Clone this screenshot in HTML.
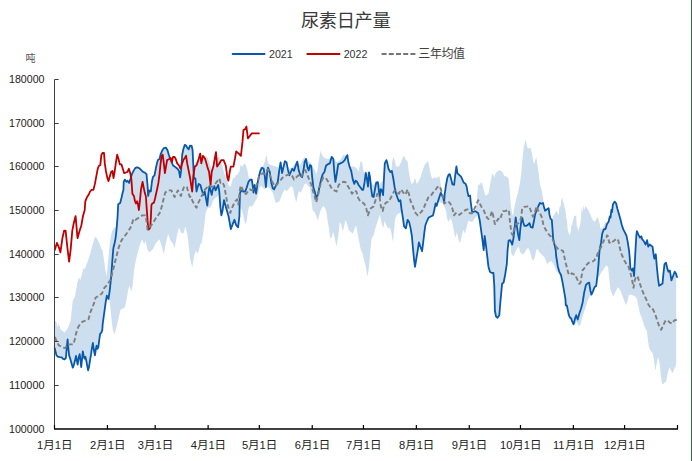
<!DOCTYPE html><html><head><meta charset="utf-8"><title>尿素日产量</title><style>html,body{margin:0;padding:0;background:#fff}svg{display:block}text{font-family:"Liberation Sans","Noto Sans CJK SC",sans-serif}</style></head><body>
<svg width="692" height="461" viewBox="0 0 692 461" role="img" aria-label="尿素日产量 2021 2022 三年均值">
<rect width="692" height="461" fill="#fff"/>
<rect x="691" y="0" width="1" height="461" fill="#2e6b40"/>
<g opacity="0.9999">
<text x="300.90" y="27.40" font-size="18.3" fill="#3a3a3a" textLength="89.9" lengthAdjust="spacing">尿素日产量</text>
<text x="25.60" y="62.40" font-size="10" fill="#555">吨</text>
<line x1="232.6" y1="54" x2="264.6" y2="54" stroke="#0959ab" stroke-width="1.8" stroke-linecap="round"/>
<text x="269.0" y="58" font-size="11" fill="#333" textLength="23.7" lengthAdjust="spacingAndGlyphs">2021</text>
<line x1="307.3" y1="54" x2="339.6" y2="54" stroke="#c00000" stroke-width="1.8" stroke-linecap="round"/>
<text x="343.7" y="58" font-size="11" fill="#333" textLength="23.7" lengthAdjust="spacingAndGlyphs">2022</text>
<line x1="381.6" y1="54" x2="415.6" y2="54" stroke="#757575" stroke-width="1.9" stroke-dasharray="5 2.2"/>
<text x="418.30" y="58.00" font-size="12" fill="#404040" textLength="46.8" lengthAdjust="spacing">三年均值</text>
<path d="M54.7 320.6 L55.2 320.9 L55.7 321.2 L56.2 321.5 L56.7 322.8 L57.2 325.8 L57.7 327.7 L58.2 325.2 L58.7 322.8 L59.2 324.7 L59.7 326.6 L60.2 328.4 L60.7 329.5 L61.2 329.8 L61.7 330.2 L62.2 330.6 L62.7 331.1 L63.2 331.6 L63.7 332.1 L64.2 332.4 L64.7 331.9 L65.2 331.4 L65.7 330.9 L66.2 330.4 L66.7 329.7 L67.2 329.0 L67.7 328.2 L68.2 327.5 L68.7 326.3 L69.2 324.8 L69.7 323.3 L70.2 321.8 L70.7 319.8 L71.2 315.3 L71.7 310.8 L72.2 305.8 L72.7 300.8 L73.2 299.4 L73.7 298.6 L74.2 297.8 L74.7 297.1 L75.2 295.2 L75.7 292.2 L76.2 289.2 L76.7 286.2 L77.2 283.4 L77.7 281.5 L78.2 279.6 L78.7 277.7 L79.2 278.0 L79.7 279.0 L80.2 280.1 L80.7 279.1 L81.2 277.1 L81.7 275.1 L82.2 273.1 L82.7 271.1 L83.2 269.1 L83.7 267.6 L84.2 268.5 L84.7 269.4 L85.2 268.0 L85.7 266.7 L86.2 265.4 L86.7 264.0 L87.2 262.7 L87.7 261.3 L88.2 259.8 L88.7 258.3 L89.2 256.8 L89.7 255.4 L90.2 253.9 L90.7 252.0 L91.2 250.1 L91.7 248.2 L92.2 246.3 L92.7 244.4 L93.2 242.6 L93.7 240.9 L94.2 239.1 L94.7 238.0 L95.2 237.0 L95.7 236.8 L96.2 237.5 L96.7 238.3 L97.2 239.0 L97.7 240.0 L98.2 241.0 L98.7 241.9 L99.2 242.9 L99.7 244.1 L100.2 245.6 L100.7 247.1 L101.2 248.6 L101.7 249.2 L102.2 249.8 L102.7 251.2 L103.2 254.5 L103.7 257.9 L104.2 261.3 L104.7 265.0 L105.2 268.8 L105.7 271.9 L106.2 274.1 L106.7 276.2 L107.2 270.6 L107.7 264.8 L108.2 259.8 L108.7 254.8 L109.2 249.8 L109.7 244.8 L110.2 240.8 L110.7 237.2 L111.2 234.2 L111.7 232.7 L112.2 231.1 L112.7 230.0 L113.2 229.2 L113.7 228.5 L114.2 227.7 L114.7 227.4 L115.2 227.1 L115.7 227.2 L116.2 228.0 L116.7 224.8 L117.2 221.4 L117.7 213.8 L118.2 204.8 L118.7 204.0 L119.2 203.7 L119.7 203.3 L120.2 202.9 L120.7 200.9 L121.2 198.9 L121.7 196.8 L122.2 194.6 L122.7 192.3 L123.2 190.7 L123.7 182.3 L124.2 180.8 L124.7 179.8 L125.2 180.2 L125.7 180.9 L126.2 181.6 L126.7 181.5 L127.2 181.0 L127.7 180.8 L128.2 181.5 L128.7 182.2 L129.2 182.7 L129.7 181.3 L130.2 179.8 L130.7 178.4 L131.2 176.7 L131.7 175.0 L132.2 173.7 L132.7 172.6 L133.2 171.5 L133.7 170.6 L134.2 169.8 L134.7 168.9 L135.2 168.1 L135.7 167.8 L136.2 167.6 L136.7 167.3 L137.2 167.4 L137.7 167.5 L138.2 167.6 L138.7 167.9 L139.2 168.2 L139.7 168.6 L140.2 169.0 L140.7 169.5 L141.2 170.0 L141.7 170.5 L142.2 171.0 L142.7 171.5 L143.2 172.0 L143.7 172.2 L144.2 172.4 L144.7 172.6 L145.2 172.9 L145.7 173.4 L146.2 173.9 L146.7 176.4 L147.2 181.4 L147.7 187.3 L148.2 195.7 L148.7 193.4 L149.2 190.9 L149.7 190.7 L150.2 191.1 L150.7 191.5 L151.2 188.0 L151.7 183.5 L152.2 180.4 L152.7 178.1 L153.2 176.6 L153.7 176.1 L154.2 175.6 L154.7 174.3 L155.2 171.8 L155.7 169.3 L156.2 166.8 L156.7 164.3 L157.2 162.4 L157.7 160.9 L158.2 159.9 L158.7 159.6 L159.2 159.2 L159.7 158.2 L160.2 156.2 L160.7 154.3 L161.2 153.1 L161.7 151.8 L162.2 150.6 L162.7 149.8 L163.2 149.1 L163.7 148.3 L164.2 148.1 L164.7 148.0 L165.2 147.9 L165.7 147.8 L166.2 148.1 L166.7 149.0 L167.2 149.8 L167.7 151.0 L168.2 152.7 L168.7 154.3 L169.2 155.8 L169.7 157.2 L170.2 158.7 L170.7 159.8 L171.2 160.9 L171.7 162.0 L172.2 163.2 L172.7 164.4 L173.2 165.6 L173.7 165.9 L174.2 166.3 L174.7 166.6 L175.2 167.0 L175.7 167.3 L176.2 167.7 L176.7 168.1 L177.2 168.5 L177.7 169.1 L178.2 169.8 L178.7 170.5 L179.2 172.2 L179.7 175.2 L180.2 176.7 L180.7 173.7 L181.2 170.3 L181.7 162.8 L182.2 155.3 L182.7 152.4 L183.2 149.9 L183.7 148.2 L184.2 146.8 L184.7 145.3 L185.2 145.1 L185.7 145.4 L186.2 145.7 L186.7 146.5 L187.2 147.4 L187.7 148.2 L188.2 148.7 L188.7 149.2 L189.2 147.9 L189.7 146.5 L190.2 145.6 L190.7 145.7 L191.2 145.9 L191.7 146.0 L192.2 148.3 L192.7 152.2 L193.2 163.9 L193.7 167.5 L194.2 165.5 L194.7 164.3 L195.2 163.4 L195.7 162.5 L196.2 161.7 L196.7 160.8 L197.2 159.9 L197.7 159.0 L198.2 158.1 L198.7 157.1 L199.2 156.1 L199.7 155.1 L200.2 154.1 L200.7 153.8 L201.2 154.1 L201.7 154.5 L202.2 154.8 L202.7 155.1 L203.2 155.4 L203.7 155.6 L204.2 155.7 L204.7 155.9 L205.2 156.1 L205.7 156.3 L206.2 156.5 L206.7 156.8 L207.2 157.0 L207.7 157.9 L208.2 159.2 L208.7 160.4 L209.2 161.7 L209.7 163.2 L210.2 164.7 L210.7 166.2 L211.2 167.4 L211.7 168.4 L212.2 169.4 L212.7 169.9 L213.2 169.4 L213.7 168.9 L214.2 168.4 L214.7 166.1 L215.2 163.4 L215.7 160.6 L216.2 158.6 L216.7 158.1 L217.2 157.6 L217.7 157.1 L218.2 156.6 L218.7 156.4 L219.2 157.4 L219.7 158.4 L220.2 159.4 L220.7 160.7 L221.2 162.2 L221.7 163.7 L222.2 165.3 L222.7 167.3 L223.2 169.3 L223.7 171.3 L224.2 172.9 L224.7 174.4 L225.2 175.9 L225.7 177.3 L226.2 178.3 L226.7 179.6 L227.2 181.0 L227.7 182.3 L228.2 183.8 L228.7 185.3 L229.2 186.0 L229.7 186.5 L230.2 186.8 L230.7 185.6 L231.2 184.5 L231.7 183.1 L232.2 181.1 L232.7 179.2 L233.2 178.2 L233.7 177.2 L234.2 177.8 L234.7 178.5 L235.2 177.0 L235.7 174.8 L236.2 174.4 L236.7 175.4 L237.2 175.4 L237.7 173.9 L238.2 172.7 L238.7 172.3 L239.2 171.9 L239.7 170.1 L240.2 166.6 L240.7 164.9 L241.2 164.7 L241.7 166.2 L242.2 167.1 L242.7 166.1 L243.2 165.1 L243.7 164.4 L244.2 163.6 L244.7 163.8 L245.2 164.0 L245.7 165.0 L246.2 166.2 L246.7 167.7 L247.2 169.2 L247.7 172.0 L248.2 175.0 L248.7 177.0 L249.2 178.4 L249.7 178.8 L250.2 178.8 L250.7 178.8 L251.2 179.6 L251.7 179.6 L252.2 182.4 L252.7 185.9 L253.2 189.9 L253.7 191.4 L254.2 187.9 L254.7 185.5 L255.2 188.4 L255.7 191.2 L256.2 193.2 L256.7 189.6 L257.2 186.1 L257.7 182.6 L258.2 180.1 L258.7 172.8 L259.2 170.8 L259.7 168.8 L260.2 166.8 L260.7 166.9 L261.2 167.3 L261.7 167.3 L262.2 167.0 L262.7 166.7 L263.2 165.7 L263.7 164.5 L264.2 163.2 L264.7 161.8 L265.2 159.6 L265.7 157.5 L266.2 156.3 L266.7 155.6 L267.2 158.9 L267.7 162.2 L268.2 163.0 L268.7 163.7 L269.2 164.2 L269.7 164.4 L270.2 164.7 L270.7 164.9 L271.2 165.1 L271.7 165.2 L272.2 165.4 L272.7 165.6 L273.2 165.7 L273.7 165.9 L274.2 166.1 L274.7 166.2 L275.2 166.4 L275.7 166.6 L276.2 166.7 L276.7 166.9 L277.2 167.1 L277.7 167.2 L278.2 167.4 L278.7 174.8 L279.2 170.8 L279.7 167.7 L280.2 164.7 L280.7 162.8 L281.2 166.4 L281.7 169.9 L282.2 172.9 L282.7 170.7 L283.2 165.6 L283.7 164.3 L284.2 163.1 L284.7 162.3 L285.2 161.4 L285.7 161.7 L286.2 162.1 L286.7 163.4 L287.2 165.9 L287.7 168.4 L288.2 169.9 L288.7 169.6 L289.2 169.3 L289.7 168.9 L290.2 168.6 L290.7 168.3 L291.2 168.1 L291.7 167.8 L292.2 167.6 L292.7 166.9 L293.2 166.2 L293.7 165.4 L294.2 164.7 L294.7 163.9 L295.2 163.2 L295.7 162.4 L296.2 162.1 L296.7 161.8 L297.2 161.6 L297.7 161.8 L298.2 162.8 L298.7 163.8 L299.2 164.8 L299.7 164.7 L300.2 164.4 L300.7 164.2 L301.2 163.5 L301.7 162.3 L302.2 161.0 L302.7 159.8 L303.2 159.0 L303.7 158.2 L304.2 157.5 L304.7 157.2 L305.2 157.4 L305.7 157.7 L306.2 157.9 L306.7 158.9 L307.2 159.9 L307.7 160.9 L308.2 161.5 L308.7 161.7 L309.2 161.9 L309.7 162.2 L310.2 162.6 L310.7 163.3 L311.2 164.1 L311.7 164.9 L312.2 165.8 L312.7 166.6 L313.2 167.4 L313.7 168.3 L314.2 169.1 L314.7 169.9 L315.2 170.9 L315.7 171.9 L316.2 172.9 L316.7 173.9 L317.2 171.5 L317.7 167.9 L318.2 164.4 L318.7 161.3 L319.2 158.3 L319.7 155.5 L320.2 153.0 L320.7 150.5 L321.2 152.0 L321.7 153.8 L322.2 155.6 L322.7 156.2 L323.2 156.7 L323.7 157.2 L324.2 157.7 L324.7 158.0 L325.2 158.2 L325.7 158.4 L326.2 158.5 L326.7 158.7 L327.2 158.9 L327.7 159.0 L328.2 158.9 L328.7 158.8 L329.2 158.6 L329.7 158.5 L330.2 158.3 L330.7 158.1 L331.2 157.9 L331.7 157.0 L332.2 157.4 L332.7 157.1 L333.2 156.9 L333.7 157.6 L334.2 158.4 L334.7 159.2 L335.2 160.1 L335.7 160.9 L336.2 161.7 L336.7 162.2 L337.2 161.9 L337.7 161.7 L338.2 161.4 L338.7 161.2 L339.2 160.7 L339.7 160.2 L340.2 159.7 L340.7 159.2 L341.2 158.4 L341.7 157.6 L342.2 156.8 L342.7 155.9 L343.2 155.1 L343.7 154.8 L344.2 155.1 L344.7 155.5 L345.2 155.8 L345.7 155.6 L346.2 155.5 L346.7 155.3 L347.2 155.2 L347.7 156.6 L348.2 158.8 L348.7 161.0 L349.2 163.2 L349.7 165.5 L350.2 166.6 L350.7 166.6 L351.2 166.6 L351.7 166.6 L352.2 166.6 L352.7 166.6 L353.2 166.6 L353.7 166.6 L354.2 166.6 L354.7 166.9 L355.2 167.3 L355.7 167.7 L356.2 168.1 L356.7 168.5 L357.2 169.0 L357.7 170.0 L358.2 171.1 L358.7 171.6 L359.2 168.5 L359.7 165.3 L360.2 162.2 L360.7 161.4 L361.2 161.7 L361.7 162.0 L362.2 162.9 L362.7 166.1 L363.2 169.3 L363.7 172.1 L364.2 172.3 L364.7 172.6 L365.2 172.8 L365.7 173.1 L366.2 172.9 L366.7 172.8 L367.2 172.6 L367.7 172.4 L368.2 172.2 L368.7 172.4 L369.2 173.1 L369.7 175.6 L370.2 178.7 L370.7 180.8 L371.2 182.8 L371.7 183.4 L372.2 183.9 L372.7 184.4 L373.2 184.9 L373.7 184.7 L374.2 184.2 L374.7 183.7 L375.2 183.2 L375.7 183.0 L376.2 182.7 L376.7 182.5 L377.2 182.3 L377.7 182.1 L378.2 184.6 L378.7 185.0 L379.2 184.6 L379.7 184.1 L380.2 183.6 L380.7 183.1 L381.2 182.6 L381.7 181.9 L382.2 181.3 L382.7 180.9 L383.2 192.8 L383.7 183.1 L384.2 174.1 L384.7 165.9 L385.2 162.6 L385.7 161.6 L386.2 160.5 L386.7 161.1 L387.2 162.6 L387.7 164.6 L388.2 167.1 L388.7 169.1 L389.2 170.0 L389.7 170.9 L390.2 171.9 L390.7 171.7 L391.2 171.4 L391.7 168.3 L392.2 161.6 L392.7 159.5 L393.2 157.3 L393.7 157.8 L394.2 159.1 L394.7 160.5 L395.2 162.6 L395.7 164.8 L396.2 166.6 L396.7 166.6 L397.2 166.6 L397.7 166.6 L398.2 166.6 L398.7 166.6 L399.2 166.1 L399.7 165.1 L400.2 164.1 L400.7 163.1 L401.2 162.0 L401.7 160.6 L402.2 159.2 L402.7 157.8 L403.2 157.1 L403.7 156.4 L404.2 155.9 L404.7 157.1 L405.2 158.4 L405.7 159.6 L406.2 160.3 L406.7 160.6 L407.2 160.9 L407.7 161.9 L408.2 166.4 L408.7 170.9 L409.2 173.8 L409.7 176.6 L410.2 179.5 L410.7 181.5 L411.2 183.5 L411.7 183.7 L412.2 183.5 L412.7 183.2 L413.2 183.0 L413.7 182.0 L414.2 180.3 L414.7 178.5 L415.2 178.2 L415.7 180.1 L416.2 182.0 L416.7 183.9 L417.2 183.3 L417.7 182.7 L418.2 182.1 L418.7 181.3 L419.2 180.2 L419.7 179.1 L420.2 177.9 L420.7 176.5 L421.2 175.0 L421.7 173.5 L422.2 172.0 L422.7 170.4 L423.2 168.9 L423.7 167.6 L424.2 166.3 L424.7 165.1 L425.2 164.2 L425.7 163.6 L426.2 163.1 L426.7 162.5 L427.2 162.0 L427.7 161.5 L428.2 162.0 L428.7 164.1 L429.2 166.2 L429.7 168.9 L430.2 171.8 L430.7 174.6 L431.2 176.1 L431.7 177.2 L432.2 178.2 L432.7 178.4 L433.2 178.2 L433.7 178.0 L434.2 177.8 L434.7 177.6 L435.2 177.5 L435.7 177.6 L436.2 177.8 L436.7 177.9 L437.2 177.8 L437.7 177.4 L438.2 177.0 L438.7 176.6 L439.2 176.3 L439.7 177.4 L440.2 181.4 L440.7 184.4 L441.2 187.4 L441.7 190.4 L442.2 195.7 L442.7 196.7 L443.2 197.7 L443.7 199.8 L444.2 200.6 L444.7 194.6 L445.2 190.9 L445.7 187.4 L446.2 184.2 L446.7 181.4 L447.2 178.7 L447.7 177.0 L448.2 175.8 L448.7 174.7 L449.2 174.4 L449.7 174.2 L450.2 175.9 L450.7 177.7 L451.2 179.5 L451.7 181.3 L452.2 183.2 L452.7 184.5 L453.2 184.6 L453.7 184.8 L454.2 183.9 L454.7 179.7 L455.2 175.5 L455.7 171.8 L456.2 168.0 L456.7 168.1 L457.2 171.5 L457.7 173.6 L458.2 174.0 L458.7 174.4 L459.2 174.9 L459.7 175.4 L460.2 175.9 L460.7 176.4 L461.2 177.1 L461.7 178.1 L462.2 179.1 L462.7 180.3 L463.2 181.5 L463.7 182.6 L464.2 182.9 L464.7 183.3 L465.2 183.6 L465.7 184.2 L466.2 185.5 L466.7 187.1 L467.2 190.0 L467.7 192.7 L468.2 195.2 L468.7 196.1 L469.2 195.9 L469.7 195.7 L470.2 196.6 L470.7 201.6 L471.2 205.5 L471.7 209.3 L472.2 212.2 L472.7 212.0 L473.2 211.8 L473.7 211.7 L474.2 211.5 L474.7 211.3 L475.2 211.2 L475.7 211.3 L476.2 207.6 L476.7 200.5 L477.2 195.2 L477.7 189.8 L478.2 184.5 L478.7 184.3 L479.2 184.6 L479.7 185.0 L480.2 184.1 L480.7 183.0 L481.2 182.0 L481.7 182.8 L482.2 184.1 L482.7 185.5 L483.2 187.6 L483.7 189.8 L484.2 191.8 L484.7 193.2 L485.2 194.7 L485.7 195.8 L486.2 195.4 L486.7 195.0 L487.2 194.7 L487.7 194.3 L488.2 193.9 L488.7 192.2 L489.2 189.4 L489.7 186.5 L490.2 183.8 L490.7 181.3 L491.2 178.8 L491.7 176.3 L492.2 174.8 L492.7 173.3 L493.2 174.3 L493.7 175.7 L494.2 177.2 L494.7 176.1 L495.2 174.4 L495.7 173.0 L496.2 172.5 L496.7 172.0 L497.2 171.5 L497.7 171.0 L498.2 170.8 L498.7 170.7 L499.2 170.6 L499.7 170.5 L500.2 170.3 L500.7 170.6 L501.2 171.0 L501.7 171.4 L502.2 171.8 L502.7 172.4 L503.2 173.5 L503.7 174.7 L504.2 175.8 L504.7 176.1 L505.2 176.2 L505.7 176.4 L506.2 176.6 L506.7 176.7 L507.2 177.1 L507.7 177.6 L508.2 178.1 L508.7 179.5 L509.2 184.5 L509.7 189.6 L510.2 197.1 L510.7 203.5 L511.2 207.5 L511.7 211.3 L512.2 213.4 L512.7 215.5 L513.2 214.8 L513.7 211.6 L514.2 208.3 L514.7 205.7 L515.2 203.5 L515.7 201.4 L516.2 199.3 L516.7 197.5 L517.2 195.6 L517.7 193.7 L518.2 191.5 L518.7 189.2 L519.2 187.0 L519.7 184.7 L520.2 181.5 L520.7 177.7 L521.2 173.9 L521.7 168.1 L522.2 162.2 L522.7 157.0 L523.2 152.4 L523.7 147.8 L524.2 145.3 L524.7 143.3 L525.2 141.2 L525.7 139.2 L526.2 142.0 L526.7 145.1 L527.2 147.3 L527.7 147.8 L528.2 148.3 L528.7 148.6 L529.2 148.4 L529.7 148.2 L530.2 148.0 L530.7 147.8 L531.2 150.3 L531.7 153.0 L532.2 155.6 L532.7 158.1 L533.2 160.6 L533.7 163.1 L534.2 163.7 L534.7 162.2 L535.2 160.6 L535.7 158.6 L536.2 157.3 L536.7 160.3 L537.2 163.3 L537.7 166.8 L538.2 170.4 L538.7 174.0 L539.2 178.4 L539.7 182.9 L540.2 185.1 L540.7 186.7 L541.2 188.3 L541.7 190.2 L542.2 193.1 L542.7 195.9 L543.2 198.9 L543.7 202.3 L544.2 205.6 L544.7 209.4 L545.2 210.7 L545.7 210.3 L546.2 209.9 L546.7 209.5 L547.2 209.1 L547.7 208.8 L548.2 208.5 L548.7 209.0 L549.2 212.6 L549.7 215.5 L550.2 217.3 L550.7 218.8 L551.2 219.3 L551.7 219.8 L552.2 219.9 L552.7 217.5 L553.2 215.9 L553.7 215.3 L554.2 214.7 L554.7 214.0 L555.2 212.9 L555.7 211.8 L556.2 211.0 L556.7 211.0 L557.2 212.1 L557.7 213.2 L558.2 214.1 L558.7 215.0 L559.2 209.6 L559.7 206.6 L560.2 206.7 L560.7 205.8 L561.2 200.8 L561.7 198.9 L562.2 197.3 L562.7 200.2 L563.2 203.0 L563.7 202.6 L564.2 205.5 L564.7 208.3 L565.2 208.8 L565.7 212.2 L566.2 217.5 L566.7 219.0 L567.2 222.5 L567.7 229.7 L568.2 231.6 L568.7 233.2 L569.2 234.3 L569.7 235.3 L570.2 233.8 L570.7 232.1 L571.2 226.2 L571.7 225.1 L572.2 225.2 L572.7 221.6 L573.2 219.7 L573.7 218.2 L574.2 215.4 L574.7 215.8 L575.2 216.2 L575.7 215.8 L576.2 215.3 L576.7 228.1 L577.2 224.1 L577.7 229.1 L578.2 231.6 L578.7 228.9 L579.2 228.1 L579.7 226.6 L580.2 224.5 L580.7 221.3 L581.2 213.6 L581.7 206.7 L582.2 209.9 L582.7 213.0 L583.2 205.1 L583.7 207.4 L584.2 209.8 L584.7 208.6 L585.2 206.2 L585.7 206.6 L586.2 207.0 L586.7 207.7 L587.2 208.5 L587.7 209.4 L588.2 210.3 L588.7 211.2 L589.2 212.2 L589.7 213.1 L590.2 214.3 L590.7 215.6 L591.2 216.8 L591.7 218.0 L592.2 219.1 L592.7 220.1 L593.2 220.8 L593.7 221.1 L594.2 221.3 L594.7 221.6 L595.2 221.6 L595.7 220.5 L596.2 219.5 L596.7 218.5 L597.2 218.1 L597.7 217.6 L598.2 218.4 L598.7 220.1 L599.2 221.9 L599.7 224.1 L600.2 226.6 L600.7 228.4 L601.2 228.7 L601.7 229.0 L602.2 229.3 L602.7 228.5 L603.2 227.4 L603.7 226.3 L604.2 225.1 L604.7 223.9 L605.2 222.7 L605.7 222.1 L606.2 221.7 L606.7 225.1 L607.2 223.8 L607.7 223.1 L608.2 222.5 L608.7 221.6 L609.2 219.4 L609.7 217.1 L610.2 217.0 L610.7 215.7 L611.2 211.4 L611.7 211.0 L612.2 210.4 L612.7 206.1 L613.2 203.9 L613.7 203.1 L614.2 202.3 L614.7 201.7 L615.2 202.3 L615.7 202.8 L616.2 203.6 L616.7 205.6 L617.2 207.7 L617.7 209.7 L618.2 211.4 L618.7 213.2 L619.2 215.0 L619.7 216.8 L620.2 218.6 L620.7 220.5 L621.2 222.6 L621.7 224.7 L622.2 226.2 L622.7 227.6 L623.2 229.1 L623.7 230.1 L624.2 231.0 L624.7 232.0 L625.2 233.0 L625.7 234.0 L626.2 235.1 L626.7 236.6 L627.2 239.1 L627.7 241.6 L628.2 244.7 L628.7 248.0 L629.2 251.5 L629.7 257.4 L630.2 264.6 L630.7 268.8 L631.2 269.5 L631.7 270.2 L632.2 270.1 L632.7 269.1 L633.2 269.4 L633.7 272.9 L634.2 274.9 L634.7 265.1 L635.2 255.4 L635.7 246.6 L636.2 237.8 L636.7 233.0 L637.2 231.7 L637.7 232.9 L638.2 234.1 L638.7 235.2 L639.2 236.1 L639.7 237.1 L640.2 237.4 L640.7 236.9 L641.2 236.4 L641.7 237.6 L642.2 239.2 L642.7 239.8 L643.2 240.4 L643.7 241.0 L644.2 241.9 L644.7 242.8 L645.2 243.7 L645.7 244.3 L646.2 242.9 L646.7 241.5 L647.2 240.5 L647.7 243.5 L648.2 246.5 L648.7 246.0 L649.2 245.3 L649.7 244.6 L650.2 244.9 L650.7 245.3 L651.2 245.7 L651.7 246.1 L652.2 246.4 L652.7 247.6 L653.2 251.1 L653.7 254.6 L654.2 258.0 L654.7 257.5 L655.2 256.1 L655.7 254.7 L656.2 258.9 L656.7 264.9 L657.2 270.3 L657.7 275.3 L658.2 279.7 L658.7 283.2 L659.2 285.7 L659.7 285.4 L660.2 285.1 L660.7 284.7 L661.2 284.4 L661.7 284.1 L662.2 283.8 L662.7 281.8 L663.2 276.2 L663.7 271.2 L664.2 266.7 L664.7 263.9 L665.2 263.4 L665.7 262.9 L666.2 263.4 L666.7 265.7 L667.2 267.9 L667.7 269.6 L668.2 271.1 L668.7 271.5 L669.2 271.1 L669.7 270.7 L670.2 272.5 L670.7 275.7 L671.2 278.9 L671.7 279.7 L672.2 278.4 L672.7 277.2 L673.2 275.9 L673.7 274.5 L674.2 273.0 L674.7 271.7 L675.2 272.5 L675.7 273.4 L676.2 274.5 L676.2 362.1 L675.7 365.9 L675.2 367.0 L674.7 368.0 L674.2 369.1 L673.7 370.6 L673.2 372.0 L672.7 373.3 L672.2 372.4 L671.7 371.4 L671.2 370.5 L670.7 369.5 L670.2 368.4 L669.7 367.3 L669.2 367.9 L668.7 369.8 L668.2 371.6 L667.7 373.5 L667.2 375.9 L666.7 378.3 L666.2 380.7 L665.7 381.8 L665.2 382.2 L664.7 382.6 L664.2 383.0 L663.7 383.4 L663.2 383.9 L662.7 384.3 L662.2 383.9 L661.7 380.9 L661.2 377.9 L660.7 374.5 L660.2 369.5 L659.7 364.5 L659.2 361.3 L658.7 359.2 L658.2 357.1 L657.7 359.2 L657.2 361.3 L656.7 363.7 L656.2 366.5 L655.7 369.4 L655.2 369.6 L654.7 365.5 L654.2 361.3 L653.7 358.4 L653.2 355.9 L652.7 353.4 L652.2 352.4 L651.7 351.9 L651.2 351.4 L650.7 350.9 L650.2 350.2 L649.7 349.1 L649.2 348.0 L648.7 345.9 L648.2 341.9 L647.7 337.9 L647.2 333.9 L646.7 330.0 L646.2 330.2 L645.7 329.3 L645.2 328.0 L644.7 326.8 L644.2 325.5 L643.7 324.1 L643.2 322.6 L642.7 321.1 L642.2 319.1 L641.7 317.1 L641.2 316.2 L640.7 315.3 L640.2 314.3 L639.7 312.5 L639.2 310.0 L638.7 307.5 L638.2 305.0 L637.7 302.5 L637.2 300.0 L636.7 298.4 L636.2 297.8 L635.7 297.2 L635.2 296.6 L634.7 296.3 L634.2 296.1 L633.7 295.8 L633.2 295.6 L632.7 295.3 L632.2 295.1 L631.7 294.8 L631.2 294.6 L630.7 294.5 L630.2 294.8 L629.7 295.0 L629.2 295.3 L628.7 295.6 L628.2 298.1 L627.7 300.6 L627.2 302.2 L626.7 303.6 L626.2 305.1 L625.7 304.2 L625.2 303.0 L624.7 301.7 L624.2 300.5 L623.7 299.2 L623.2 298.0 L622.7 296.7 L622.2 295.3 L621.7 293.9 L621.2 292.5 L620.7 291.3 L620.2 290.3 L619.7 289.2 L619.2 288.6 L618.7 288.1 L618.2 287.6 L617.7 287.6 L617.2 288.5 L616.7 289.4 L616.2 290.3 L615.7 291.2 L615.2 292.5 L614.7 293.7 L614.2 295.0 L613.7 296.2 L613.2 295.9 L612.7 295.0 L612.2 294.1 L611.7 293.0 L611.2 291.6 L610.7 290.2 L610.2 288.0 L609.7 283.0 L609.2 278.0 L608.7 273.0 L608.2 268.0 L607.7 266.7 L607.2 266.0 L606.7 265.3 L606.2 265.7 L605.7 266.3 L605.2 266.9 L604.7 267.6 L604.2 268.4 L603.7 269.1 L603.2 269.9 L602.7 270.6 L602.2 271.2 L601.7 271.9 L601.2 272.5 L600.7 273.4 L600.2 274.4 L599.7 275.5 L599.2 276.4 L598.7 277.1 L598.2 277.8 L597.7 279.2 L597.2 281.4 L596.7 283.6 L596.2 285.8 L595.7 287.0 L595.2 288.3 L594.7 289.5 L594.2 290.8 L593.7 291.9 L593.2 292.9 L592.7 294.0 L592.2 295.0 L591.7 296.1 L591.2 296.5 L590.7 296.3 L590.2 296.1 L589.7 296.6 L589.2 297.6 L588.7 298.6 L588.2 299.6 L587.7 301.0 L587.2 302.5 L586.7 304.0 L586.2 305.5 L585.7 307.0 L585.2 308.5 L584.7 310.0 L584.2 311.5 L583.7 313.0 L583.2 314.5 L582.7 316.0 L582.2 317.5 L581.7 319.5 L581.2 321.8 L580.7 324.2 L580.2 325.2 L579.7 325.4 L579.2 325.7 L578.7 325.9 L578.2 325.2 L577.7 324.0 L577.2 322.8 L576.7 321.5 L576.2 322.3 L575.7 323.0 L575.2 323.8 L574.7 324.5 L574.2 322.1 L573.7 324.0 L573.2 323.4 L572.7 322.4 L572.2 321.3 L571.7 319.8 L571.2 318.4 L570.7 318.0 L570.2 317.7 L569.7 317.3 L569.2 315.8 L568.7 314.3 L568.2 311.9 L567.7 309.4 L567.2 306.8 L566.7 305.4 L566.2 305.4 L565.7 303.5 L565.2 297.8 L564.7 294.9 L564.2 292.1 L563.7 289.2 L563.2 286.3 L562.7 283.3 L562.2 280.7 L561.7 278.2 L561.2 275.7 L560.7 274.4 L560.2 273.4 L559.7 272.5 L559.2 271.3 L558.7 272.8 L558.2 272.5 L557.7 272.3 L557.2 272.0 L556.7 271.7 L556.2 270.5 L555.7 269.2 L555.2 268.0 L554.7 266.8 L554.2 265.8 L553.7 264.7 L553.2 263.8 L552.7 263.0 L552.2 262.3 L551.7 261.5 L551.2 261.0 L550.7 261.2 L550.2 261.5 L549.7 261.7 L549.2 262.0 L548.7 262.5 L548.2 263.0 L547.7 263.5 L547.2 264.0 L546.7 263.2 L546.2 261.4 L545.7 259.7 L545.2 258.5 L544.7 257.8 L544.2 257.2 L543.7 256.6 L543.2 256.1 L542.7 255.6 L542.2 255.1 L541.7 254.6 L541.2 254.1 L540.7 253.6 L540.2 253.1 L539.7 252.6 L539.2 251.9 L538.7 251.0 L538.2 250.1 L537.7 249.1 L537.2 249.3 L536.7 249.7 L536.2 250.1 L535.7 252.7 L535.2 255.7 L534.7 257.5 L534.2 258.7 L533.7 260.0 L533.2 260.8 L532.7 260.1 L532.2 259.3 L531.7 258.4 L531.2 256.2 L530.7 254.1 L530.2 252.1 L529.7 251.1 L529.2 250.1 L528.7 249.1 L528.2 248.1 L527.7 248.3 L527.2 248.8 L526.7 249.3 L526.2 249.8 L525.7 250.6 L525.2 251.5 L524.7 252.4 L524.2 253.4 L523.7 253.6 L523.2 253.9 L522.7 254.1 L522.2 254.4 L521.7 254.0 L521.2 253.4 L520.7 252.8 L520.2 251.9 L519.7 250.1 L519.2 248.3 L518.7 246.9 L518.2 247.3 L517.7 247.6 L517.2 248.1 L516.7 249.0 L516.2 249.9 L515.7 250.9 L515.2 252.0 L514.7 253.3 L514.2 254.5 L513.7 255.8 L513.2 256.3 L512.7 255.6 L512.2 254.8 L511.7 254.1 L511.2 253.3 L510.7 243.3 L510.2 240.1 L509.7 240.3 L509.2 240.5 L508.7 240.7 L508.2 244.8 L507.7 249.2 L507.2 257.9 L506.7 265.2 L506.2 268.4 L505.7 271.5 L505.2 274.6 L504.7 277.2 L504.2 279.7 L503.7 282.2 L503.2 282.9 L502.7 283.3 L502.2 283.6 L501.7 288.1 L501.2 293.5 L500.7 299.0 L500.2 304.6 L499.7 310.3 L499.2 315.3 L498.7 316.0 L498.2 316.8 L497.7 317.5 L497.2 317.4 L496.7 316.9 L496.2 316.4 L495.7 314.6 L495.2 312.1 L494.7 301.4 L494.2 284.4 L493.7 276.9 L493.2 272.9 L492.7 272.9 L492.2 272.9 L491.7 272.9 L491.2 272.6 L490.7 272.2 L490.2 271.9 L489.7 270.8 L489.2 269.1 L488.7 267.3 L488.2 264.3 L487.7 260.0 L487.2 255.7 L486.7 251.5 L486.2 247.3 L485.7 243.1 L485.2 239.3 L484.7 236.8 L484.2 243.3 L483.7 249.8 L483.2 246.3 L482.7 242.3 L482.2 238.5 L481.7 234.8 L481.2 231.0 L480.7 227.5 L480.2 223.9 L479.7 220.5 L479.2 218.0 L478.7 215.5 L478.2 213.4 L477.7 214.3 L477.2 215.2 L476.7 216.2 L476.2 216.8 L475.7 217.3 L475.2 217.8 L474.7 218.3 L474.2 218.9 L473.7 219.7 L473.2 220.4 L472.7 221.2 L472.2 221.9 L471.7 221.8 L471.2 221.7 L470.7 221.6 L470.2 221.4 L469.7 221.3 L469.2 221.1 L468.7 221.0 L468.2 221.3 L467.7 223.1 L467.2 225.0 L466.7 226.9 L466.2 228.8 L465.7 230.6 L465.2 232.5 L464.7 233.4 L464.2 232.0 L463.7 230.6 L463.2 230.0 L462.7 231.9 L462.2 233.7 L461.7 235.6 L461.2 238.0 L460.7 240.5 L460.2 243.0 L459.7 242.7 L459.2 241.4 L458.7 240.2 L458.2 238.6 L457.7 236.1 L457.2 233.6 L456.7 232.2 L456.2 234.4 L455.7 236.5 L455.2 237.6 L454.7 235.1 L454.2 232.6 L453.7 230.1 L453.2 227.6 L452.7 225.1 L452.2 222.6 L451.7 220.5 L451.2 219.5 L450.7 218.4 L450.2 217.9 L449.7 219.4 L449.2 220.8 L448.7 221.7 L448.2 220.8 L447.7 219.9 L447.2 218.9 L446.7 215.7 L446.2 211.7 L445.7 209.4 L445.2 208.4 L444.7 207.4 L444.2 206.4 L443.7 205.4 L443.2 204.4 L442.7 203.5 L442.2 203.2 L441.7 203.0 L441.2 202.7 L440.7 202.5 L440.2 202.2 L439.7 202.0 L439.2 201.7 L438.7 201.5 L438.2 201.7 L437.7 202.7 L437.2 204.0 L436.7 205.8 L436.2 205.7 L435.7 206.7 L435.2 207.7 L434.7 208.7 L434.2 210.5 L433.7 212.5 L433.2 214.5 L432.7 215.6 L432.2 215.8 L431.7 216.1 L431.2 216.3 L430.7 216.6 L430.2 216.8 L429.7 217.1 L429.2 217.3 L428.7 217.6 L428.2 218.5 L427.7 219.6 L427.2 220.7 L426.7 221.9 L426.2 223.2 L425.7 224.4 L425.2 226.5 L424.7 230.0 L424.2 233.7 L423.7 238.2 L423.2 242.7 L422.7 246.7 L422.2 250.7 L421.7 250.1 L421.2 248.8 L420.7 247.6 L420.2 246.3 L419.7 244.8 L419.2 243.4 L418.7 243.8 L418.2 247.3 L417.7 250.7 L417.2 253.6 L416.7 256.4 L416.2 259.3 L415.7 262.4 L415.2 265.5 L414.7 264.5 L414.2 260.5 L413.7 255.6 L413.2 250.6 L412.7 245.0 L412.2 239.0 L411.7 234.5 L411.2 231.6 L410.7 228.7 L410.2 226.5 L409.7 224.3 L409.2 222.2 L408.7 221.3 L408.2 220.6 L407.7 219.9 L407.2 221.8 L406.7 224.3 L406.2 226.8 L405.7 228.2 L405.2 227.6 L404.7 226.9 L404.2 226.3 L403.7 223.1 L403.2 219.6 L402.7 216.3 L402.2 213.1 L401.7 212.0 L401.2 212.3 L400.7 212.6 L400.2 212.8 L399.7 213.1 L399.2 213.3 L398.7 213.6 L398.2 213.8 L397.7 214.1 L397.2 214.4 L396.7 215.4 L396.2 216.4 L395.7 217.4 L395.2 218.4 L394.7 222.8 L394.2 228.8 L393.7 234.3 L393.2 239.3 L392.7 241.4 L392.2 238.3 L391.7 235.1 L391.2 232.0 L390.7 230.4 L390.2 229.0 L389.7 227.5 L389.2 227.6 L388.7 228.0 L388.2 228.4 L387.7 227.7 L387.2 226.7 L386.7 225.8 L386.2 224.7 L385.7 223.5 L385.2 222.2 L384.7 221.0 L384.2 223.0 L383.7 225.5 L383.2 228.0 L382.7 226.9 L382.2 225.1 L381.7 223.3 L381.2 221.0 L380.7 218.5 L380.2 216.0 L379.7 214.9 L379.2 216.4 L378.7 218.0 L378.2 219.6 L377.7 221.0 L377.2 222.4 L376.7 223.9 L376.2 225.6 L375.7 227.4 L375.2 229.2 L374.7 231.0 L374.2 232.9 L373.7 234.8 L373.2 236.2 L372.7 236.8 L372.2 237.5 L371.7 238.1 L371.2 242.5 L370.7 247.5 L370.2 252.5 L369.7 258.4 L369.2 264.4 L368.7 268.8 L368.2 272.3 L367.7 275.9 L367.2 275.2 L366.7 272.1 L366.2 269.0 L365.7 266.1 L365.2 264.3 L364.7 262.5 L364.2 260.6 L363.7 258.5 L363.2 256.3 L362.7 254.1 L362.2 252.7 L361.7 251.8 L361.2 250.9 L360.7 249.6 L360.2 247.1 L359.7 244.6 L359.2 242.1 L358.7 239.2 L358.2 236.3 L357.7 233.5 L357.2 231.0 L356.7 228.5 L356.2 226.0 L355.7 226.0 L355.2 227.2 L354.7 228.5 L354.2 229.8 L353.7 231.2 L353.2 232.6 L352.7 233.8 L352.2 233.3 L351.7 232.8 L351.2 232.3 L350.7 231.8 L350.2 231.4 L349.7 231.0 L349.2 230.7 L348.7 229.4 L348.2 227.8 L347.7 226.2 L347.2 224.7 L346.7 223.1 L346.2 221.6 L345.7 220.0 L345.2 221.6 L344.7 223.7 L344.2 225.9 L343.7 227.7 L343.2 229.5 L342.7 231.3 L342.2 229.4 L341.7 226.5 L341.2 224.0 L340.7 223.2 L340.2 222.5 L339.7 222.6 L339.2 227.2 L338.7 231.9 L338.2 236.4 L337.7 239.5 L337.2 242.6 L336.7 245.7 L336.2 245.2 L335.7 242.7 L335.2 240.2 L334.7 237.8 L334.2 235.7 L333.7 233.5 L333.2 231.9 L332.7 233.7 L332.2 235.5 L331.7 237.1 L331.2 237.4 L330.7 237.8 L330.2 238.1 L329.7 234.9 L329.2 230.4 L328.7 227.3 L328.2 224.2 L327.7 221.1 L327.2 217.5 L326.7 214.0 L326.2 210.4 L325.7 209.3 L325.2 208.5 L324.7 207.8 L324.2 207.0 L323.7 206.2 L323.2 205.9 L322.7 206.7 L322.2 207.5 L321.7 208.4 L321.2 209.2 L320.7 210.1 L320.2 211.8 L319.7 213.4 L319.2 215.2 L318.7 217.2 L318.2 219.2 L317.7 219.9 L317.2 218.6 L316.7 217.3 L316.2 216.0 L315.7 214.8 L315.2 213.5 L314.7 212.3 L314.2 211.7 L313.7 211.2 L313.2 210.7 L312.7 210.2 L312.2 207.4 L311.7 202.8 L311.2 198.3 L310.7 193.7 L310.2 189.2 L309.7 187.3 L309.2 186.9 L308.7 186.4 L308.2 186.0 L307.7 185.5 L307.2 184.7 L306.7 184.0 L306.2 183.2 L305.7 183.5 L305.2 183.7 L304.7 184.0 L304.2 184.7 L303.7 186.0 L303.2 187.2 L302.7 188.5 L302.2 189.7 L301.7 190.7 L301.2 191.7 L300.7 192.7 L300.2 192.3 L299.7 191.8 L299.2 191.3 L298.7 191.8 L298.2 193.7 L297.7 195.6 L297.2 197.9 L296.7 200.4 L296.2 201.9 L295.7 200.4 L295.2 198.7 L294.7 196.9 L294.2 195.0 L293.7 191.9 L293.2 188.4 L292.7 187.7 L292.2 186.9 L291.7 186.2 L291.2 186.1 L290.7 186.6 L290.2 187.1 L289.7 187.6 L289.2 188.3 L288.7 189.1 L288.2 189.8 L287.7 190.3 L287.2 190.5 L286.7 190.8 L286.2 191.0 L285.7 190.5 L285.2 190.0 L284.7 189.5 L284.2 189.9 L283.7 190.9 L283.2 191.9 L282.7 193.0 L282.2 194.2 L281.7 195.5 L281.2 196.7 L280.7 198.0 L280.2 199.2 L279.7 200.5 L279.2 201.5 L278.7 201.7 L278.2 202.0 L277.7 202.2 L277.2 202.5 L276.7 202.7 L276.2 203.0 L275.7 202.7 L275.2 201.3 L274.7 199.8 L274.2 197.7 L273.7 195.6 L273.2 193.5 L272.7 192.8 L272.2 192.0 L271.7 191.3 L271.2 190.5 L270.7 189.8 L270.2 189.0 L269.7 188.3 L269.2 187.8 L268.7 187.3 L268.2 186.8 L267.7 186.9 L267.2 187.1 L266.7 187.4 L266.2 187.7 L265.7 188.2 L265.2 188.7 L264.7 189.2 L264.2 188.9 L263.7 188.4 L263.2 187.9 L262.7 187.4 L262.2 186.9 L261.7 186.4 L261.2 185.9 L260.7 186.2 L260.2 186.7 L259.7 187.2 L259.2 188.5 L258.7 191.0 L258.2 193.5 L257.7 195.5 L257.2 197.3 L256.7 198.9 L256.2 199.7 L255.7 200.4 L255.2 201.2 L254.7 202.1 L254.2 203.1 L253.7 204.1 L253.2 205.0 L252.7 205.5 L252.2 206.0 L251.7 206.5 L251.2 206.3 L250.7 206.0 L250.2 205.9 L249.7 206.2 L249.2 206.5 L248.7 208.0 L248.2 210.5 L247.7 213.2 L247.2 216.9 L246.7 220.6 L246.2 222.4 L245.7 224.1 L245.2 223.7 L244.7 221.8 L244.2 219.9 L243.7 217.5 L243.2 215.0 L242.7 212.9 L242.2 211.4 L241.7 209.9 L241.2 208.4 L240.7 208.4 L240.2 203.0 L239.7 202.8 L239.2 218.5 L238.7 222.7 L238.2 226.8 L237.7 226.9 L237.2 226.3 L236.7 225.7 L236.2 225.2 L235.7 223.6 L235.2 222.1 L234.7 220.5 L234.2 220.4 L233.7 221.6 L233.2 222.9 L232.7 224.1 L232.2 225.4 L231.7 226.7 L231.2 228.0 L230.7 228.7 L230.2 225.8 L229.7 222.9 L229.2 220.0 L228.7 217.1 L228.2 215.2 L227.7 213.5 L227.2 211.8 L226.7 210.0 L226.2 208.2 L225.7 206.4 L225.2 204.5 L224.7 202.6 L224.2 200.8 L223.7 202.7 L223.2 206.3 L222.7 209.8 L222.2 212.4 L221.7 214.4 L221.2 213.4 L220.7 209.4 L220.2 204.4 L219.7 197.4 L219.2 194.6 L218.7 195.2 L218.2 195.8 L217.7 196.2 L217.2 196.6 L216.7 197.0 L216.2 197.3 L215.7 197.7 L215.2 198.2 L214.7 198.8 L214.2 199.4 L213.7 200.1 L213.2 200.7 L212.7 201.4 L212.2 202.9 L211.7 204.4 L211.2 205.9 L210.7 207.1 L210.2 207.3 L209.7 207.4 L209.2 207.6 L208.7 207.8 L208.2 208.2 L207.7 208.5 L207.2 208.8 L206.7 209.7 L206.2 211.2 L205.7 212.7 L205.2 216.6 L204.7 221.0 L204.2 225.4 L203.7 229.7 L203.2 233.1 L202.7 236.5 L202.2 239.6 L201.7 242.5 L201.2 244.4 L200.7 243.1 L200.2 245.0 L199.7 246.8 L199.2 248.7 L198.7 250.5 L198.2 252.3 L197.7 254.1 L197.2 253.3 L196.7 251.9 L196.2 250.4 L195.7 251.3 L195.2 252.8 L194.7 254.3 L194.2 255.8 L193.7 258.0 L193.2 261.1 L192.7 264.2 L192.2 267.4 L191.7 265.3 L191.2 263.2 L190.7 261.0 L190.2 258.9 L189.7 255.5 L189.2 250.7 L188.7 246.0 L188.2 241.2 L187.7 236.4 L187.2 233.9 L186.7 231.7 L186.2 229.4 L185.7 227.2 L185.2 227.3 L184.7 229.0 L184.2 230.8 L183.7 232.5 L183.2 233.8 L182.7 233.5 L182.2 233.3 L181.7 233.0 L181.2 232.8 L180.7 231.6 L180.2 230.4 L179.7 229.1 L179.2 227.9 L178.7 228.5 L178.2 230.5 L177.7 232.5 L177.2 234.5 L176.7 236.7 L176.2 239.4 L175.7 242.2 L175.2 244.9 L174.7 247.7 L174.2 246.8 L173.7 245.5 L173.2 244.3 L172.7 243.0 L172.2 242.2 L171.7 241.7 L171.2 241.2 L170.7 240.7 L170.2 240.0 L169.7 238.5 L169.2 237.0 L168.7 235.5 L168.2 234.0 L167.7 235.7 L167.2 237.7 L166.7 239.7 L166.2 241.7 L165.7 244.1 L165.2 246.8 L164.7 249.6 L164.2 252.3 L163.7 254.0 L163.2 252.0 L162.7 250.0 L162.2 248.0 L161.7 246.0 L161.2 244.4 L160.7 242.9 L160.2 241.4 L159.7 239.9 L159.2 239.5 L158.7 240.0 L158.2 240.5 L157.7 241.0 L157.2 241.5 L156.7 242.0 L156.2 242.6 L155.7 243.6 L155.2 244.6 L154.7 245.6 L154.2 246.6 L153.7 247.6 L153.2 248.6 L152.7 249.3 L152.2 249.8 L151.7 250.3 L151.2 250.8 L150.7 251.3 L150.2 251.8 L149.7 252.2 L149.2 251.7 L148.7 251.2 L148.2 250.7 L147.7 250.2 L147.2 248.5 L146.7 246.2 L146.2 244.0 L145.7 241.7 L145.2 241.1 L144.7 243.1 L144.2 244.4 L143.7 243.2 L143.2 241.9 L142.7 240.7 L142.2 239.4 L141.7 240.4 L141.2 241.6 L140.7 242.9 L140.2 244.1 L139.7 245.6 L139.2 247.4 L138.7 249.1 L138.2 250.9 L137.7 252.7 L137.2 254.7 L136.7 256.7 L136.2 258.7 L135.7 260.7 L135.2 263.4 L134.7 266.3 L134.2 269.2 L133.7 274.2 L133.2 279.6 L132.7 284.4 L132.2 287.3 L131.7 290.1 L131.2 291.9 L130.7 289.8 L130.2 287.6 L129.7 286.1 L129.2 287.3 L128.7 288.6 L128.2 289.8 L127.7 292.4 L127.2 295.6 L126.7 298.7 L126.2 301.6 L125.7 303.7 L125.2 305.9 L124.7 307.6 L124.2 307.9 L123.7 308.1 L123.2 308.4 L122.7 308.6 L122.2 308.9 L121.7 309.1 L121.2 309.4 L120.7 309.6 L120.2 311.0 L119.7 313.2 L119.2 315.5 L118.7 317.7 L118.2 319.9 L117.7 321.9 L117.2 323.9 L116.7 325.9 L116.2 327.9 L115.7 330.0 L115.2 332.2 L114.7 334.3 L114.2 333.6 L113.7 332.4 L113.2 331.1 L112.7 328.9 L112.2 324.9 L111.7 320.7 L111.2 315.7 L110.7 310.7 L110.2 305.7 L109.7 300.7 L109.2 300.0 L108.7 300.0 L108.2 300.0 L107.7 300.0 L107.2 300.0 L106.7 300.0 L106.2 300.0 L105.7 302.4 L105.2 305.9 L104.7 309.5 L104.2 313.1 L103.7 316.6 L103.2 320.2 L102.7 323.8 L102.2 330.3 L101.7 331.7 L101.2 332.8 L100.7 333.3 L100.2 333.8 L99.7 336.7 L99.2 340.3 L98.7 344.4 L98.2 347.3 L97.7 348.4 L97.2 347.8 L96.7 346.0 L96.2 347.5 L95.7 350.1 L95.2 353.4 L94.7 354.3 L94.2 351.5 L93.7 348.5 L93.2 344.9 L92.7 344.2 L92.2 346.7 L91.7 349.6 L91.2 353.2 L90.7 356.5 L90.2 359.6 L89.7 362.8 L89.2 366.0 L88.7 368.3 L88.2 370.0 L87.7 368.2 L87.2 365.6 L86.7 362.7 L86.2 360.2 L85.7 358.0 L85.2 357.1 L84.7 358.1 L84.2 357.6 L83.7 355.8 L83.2 353.5 L82.7 352.5 L82.2 358.0 L81.7 362.7 L81.2 366.8 L80.7 362.3 L80.2 358.2 L79.7 354.3 L79.2 355.8 L78.7 357.7 L78.2 360.7 L77.7 363.8 L77.2 362.1 L76.7 359.4 L76.2 356.9 L75.7 357.5 L75.2 359.6 L74.7 361.7 L74.2 363.6 L73.7 365.4 L73.2 366.7 L72.7 367.4 L72.2 365.7 L71.7 363.9 L71.2 362.2 L70.7 360.4 L70.2 358.7 L69.7 357.1 L69.2 355.6 L68.7 351.3 L68.2 346.6 L67.7 340.8 L67.2 343.6 L66.7 349.1 L66.2 354.5 L65.7 358.1 L65.2 358.6 L64.7 359.1 L64.2 359.2 L63.7 359.0 L63.2 358.9 L62.7 358.5 L62.2 357.9 L61.7 357.3 L61.2 357.2 L60.7 357.2 L60.2 357.1 L59.7 357.0 L59.2 356.9 L58.7 356.8 L58.2 356.7 L57.7 356.5 L57.2 356.0 L56.7 355.5 L56.2 354.1 L55.7 352.1 L55.2 350.2 L54.7 348.2Z" fill="#cddeee" stroke="none"/>
<path d="M54.7 348.2 L56.5 355.4 L57.8 356.7 L59.8 357.1 L61.7 357.3 L63.0 358.9 L64.6 359.3 L65.9 358.0 L66.6 349.5 L67.6 339.4 L68.2 346.9 L69.1 355.4 L70.2 358.6 L71.5 363.2 L72.8 367.7 L73.8 365.1 L75.0 360.6 L76.0 356.0 L76.9 360.6 L77.6 364.5 L78.6 358.0 L79.7 354.1 L80.6 361.2 L81.2 367.1 L82.1 358.6 L82.8 351.5 L83.6 355.4 L84.5 358.6 L85.4 356.7 L86.4 361.2 L87.3 366.4 L88.1 370.3 L89.0 367.1 L89.9 361.2 L91.0 354.7 L91.9 348.2 L92.9 343.0 L93.8 349.5 L94.9 355.4 L95.8 349.5 L96.6 345.6 L97.5 348.9 L98.4 346.9 L99.2 340.4 L100.1 333.9 L101.4 332.6 L102.3 330.0 L102.7 323.8 L104.2 313.0 L105.7 302.2 L106.8 295.6 L108.5 298.9 L109.6 291.3 L110.7 281.5 L111.3 275.0 L111.8 268.5 L112.4 259.9 L113.4 247.9 L114.3 244.6 L115.6 238.1 L116.6 229.0 L117.6 216.0 L118.2 204.3 L120.2 203.0 L121.5 197.8 L122.8 192.0 L123.4 190.0 L123.7 181.8 L124.8 179.6 L126.3 181.8 L127.6 180.7 L129.1 182.9 L130.6 178.5 L131.9 174.2 L133.5 170.9 L135.2 168.1 L136.7 167.3 L138.4 167.7 L140.0 168.8 L141.5 170.3 L143.2 172.0 L144.9 172.7 L146.5 174.2 L147.5 185.0 L148.2 195.9 L149.3 190.4 L150.8 191.5 L151.9 181.8 L153.0 176.8 L154.5 175.3 L155.8 168.8 L156.9 163.4 L157.9 160.1 L159.5 159.0 L160.5 154.7 L162.3 150.3 L163.8 148.2 L166.0 147.7 L167.5 150.3 L168.8 154.7 L170.3 159.0 L171.8 162.3 L173.1 165.5 L174.6 166.6 L176.2 167.7 L177.5 168.8 L179.0 170.9 L180.1 177.4 L181.1 170.9 L182.2 154.7 L183.3 149.3 L184.8 144.9 L186.1 145.6 L187.6 148.2 L188.7 149.3 L190.0 145.6 L191.7 146.0 L192.6 150.3 L193.3 165.5 L193.9 178.5 L195.4 178.5 L196.5 191.5 L197.6 187.2 L198.7 183.9 L200.4 185.0 L201.9 190.4 L203.4 194.8 L204.7 191.5 L206.3 200.2 L207.3 205.6 L208.4 193.7 L209.5 186.1 L210.6 190.4 L211.7 194.8 L212.8 189.4 L214.3 186.1 L215.6 190.4 L217.1 187.2 L218.2 185.0 L219.3 191.5 L220.3 206.7 L221.4 215.4 L222.5 211.0 L224.0 200.2 L225.8 206.7 L227.3 212.1 L228.6 216.5 L230.8 229.1 L232.7 224.1 L234.4 219.8 L236.2 225.2 L238.1 227.3 L239.4 216.5 L239.9 193.7 L240.9 190.4 L243.1 191.5 L245.3 191.5 L246.8 187.2 L248.5 181.8 L250.3 179.6 L251.8 179.6 L252.9 187.2 L253.5 192.6 L254.6 185.0 L256.1 193.7 L257.6 182.9 L258.9 176.4 L260.4 170.9 L262.0 167.7 L263.7 168.8 L264.8 176.4 L265.9 187.2 L267.0 174.2 L268.0 167.7 L269.8 172.0 L271.3 182.9 L272.8 188.3 L274.1 189.4 L275.6 186.1 L277.8 181.8 L279.3 169.9 L280.6 162.3 L282.1 173.1 L283.6 166.6 L284.9 161.2 L286.5 162.3 L288.0 169.9 L289.3 175.3 L290.8 172.0 L292.3 168.8 L294.0 170.9 L295.8 165.5 L297.3 161.6 L298.7 170.3 L300.4 175.5 L302.1 177.2 L303.5 170.3 L304.7 161.6 L306.1 159.0 L307.3 166.8 L308.7 170.3 L309.9 165.1 L311.2 166.0 L312.2 177.2 L313.4 187.6 L315.1 192.8 L316.0 198.0 L317.9 194.8 L319.4 187.2 L321.1 179.6 L322.7 174.2 L324.4 172.0 L326.1 165.5 L327.6 164.4 L329.8 163.4 L331.7 156.8 L333.3 159.0 L334.3 172.0 L335.4 181.8 L336.9 173.1 L338.2 164.4 L340.4 163.4 L342.6 162.3 L344.7 160.1 L346.3 156.8 L347.3 155.1 L348.4 162.3 L349.9 167.7 L351.2 170.9 L352.8 179.6 L354.3 183.9 L355.6 180.7 L357.1 181.8 L358.6 185.0 L360.3 187.2 L362.1 189.8 L363.2 189.9 L364.5 182.7 L365.8 173.0 L367.1 180.1 L368.0 186.6 L369.0 172.3 L370.1 177.5 L371.0 187.9 L372.3 196.4 L373.6 197.0 L374.9 189.9 L376.2 182.7 L377.9 182.1 L378.8 190.5 L379.7 197.0 L380.7 189.2 L382.0 190.5 L383.1 195.1 L384.0 177.5 L384.8 163.4 L386.4 160.1 L387.4 163.4 L388.5 168.8 L390.3 172.0 L391.8 170.9 L393.3 178.5 L394.6 187.2 L396.1 193.7 L397.6 198.0 L398.9 201.3 L400.4 200.2 L401.5 208.9 L403.0 218.7 L404.1 226.3 L405.9 228.4 L407.6 219.8 L409.1 221.9 L410.6 228.4 L411.9 236.0 L413.0 249.0 L414.1 259.9 L415.0 266.8 L416.3 258.8 L417.8 250.1 L418.9 242.5 L420.4 246.8 L422.1 251.2 L423.2 242.5 L424.3 232.8 L425.4 225.2 L427.1 220.8 L428.6 217.6 L430.8 216.5 L433.0 215.4 L434.3 210.0 L435.6 203.3 L436.6 205.9 L437.6 202.7 L439.2 197.5 L440.8 192.9 L442.1 195.5 L443.4 198.1 L444.1 202.0 L444.7 194.2 L446.0 185.1 L447.3 178.0 L448.6 174.7 L449.7 174.1 L451.0 178.6 L452.5 184.5 L454.1 184.9 L455.1 176.0 L456.4 166.3 L457.5 173.4 L459.0 174.7 L461.0 176.7 L462.3 179.3 L463.6 182.5 L465.5 183.8 L466.6 186.4 L467.5 191.6 L468.4 196.2 L470.1 195.5 L470.7 202.0 L471.8 210.0 L472.2 212.2 L475.4 211.1 L478.2 213.3 L479.8 220.8 L481.3 231.7 L482.6 241.4 L483.7 250.1 L484.7 236.0 L485.6 242.5 L486.9 253.4 L488.4 266.4 L489.9 271.8 L491.7 272.9 L493.4 272.9 L494.3 285.9 L494.9 310.8 L496.0 316.3 L497.5 317.8 L499.3 315.2 L500.3 302.7 L502.1 283.7 L503.6 282.6 L505.1 275.0 L506.8 264.2 L507.6 250.0 L508.6 240.7 L510.2 240.1 L512.2 244.6 L513.5 238.1 L514.8 226.4 L515.7 217.3 L516.7 225.1 L518.0 234.2 L519.3 240.1 L520.3 229.0 L521.3 221.2 L522.3 218.0 L523.2 222.5 L524.5 225.8 L526.5 225.8 L528.2 224.5 L529.5 223.2 L530.8 227.1 L532.6 227.7 L533.9 221.2 L535.2 214.1 L536.9 209.5 L538.6 205.6 L539.9 203.0 L541.4 203.7 L543.0 203.0 L544.0 206.9 L545.1 210.8 L546.6 209.5 L548.6 208.2 L549.5 214.7 L550.5 218.6 L551.8 219.9 L552.5 229.0 L553.1 238.1 L554.2 243.3 L555.7 250.0 L556.1 255.5 L557.8 266.4 L559.3 271.8 L561.0 275.0 L562.6 282.6 L563.9 290.2 L565.4 298.9 L565.8 305.4 L566.9 305.4 L567.5 308.7 L568.6 314.1 L569.7 317.3 L571.2 318.4 L572.3 321.7 L573.6 324.3 L575.1 318.4 L576.2 315.2 L577.7 319.5 L579.5 313.0 L581.0 308.7 L582.7 302.2 L584.2 292.4 L586.0 284.8 L587.5 283.3 L589.2 282.6 L590.3 290.2 L591.4 294.5 L592.9 291.3 L594.6 287.0 L596.2 285.9 L597.5 275.0 L598.5 264.2 L599.5 250.6 L601.1 242.4 L602.2 233.8 L603.8 229.4 L605.5 229.0 L607.0 224.0 L608.6 221.8 L609.8 216.4 L610.5 217.6 L611.4 209.9 L612.0 212.2 L612.9 204.4 L614.6 201.6 L616.1 203.4 L617.4 208.8 L619.0 214.2 L620.5 219.6 L621.8 225.0 L623.3 229.4 L625.0 232.6 L626.5 235.9 L627.8 242.4 L629.1 251.0 L629.8 258.7 L630.4 268.4 L632.0 270.6 L633.0 268.4 L634.1 276.0 L635.2 254.9 L636.3 235.9 L636.9 231.1 L638.5 234.8 L640.0 237.6 L641.3 236.3 L642.1 239.1 L643.9 241.3 L645.6 244.5 L647.1 240.2 L648.2 246.7 L649.7 244.5 L651.0 245.6 L652.5 246.7 L653.6 254.3 L654.3 258.7 L655.8 254.3 L656.9 267.3 L658.0 278.2 L659.1 285.8 L660.8 284.7 L662.5 283.6 L663.4 273.8 L664.5 264.1 L666.0 262.6 L667.3 268.4 L668.4 271.7 L669.9 270.6 L671.4 280.3 L673.1 276.0 L674.7 271.7 L676.0 273.8 L677.0 277.1" fill="none" stroke="#0959ab" stroke-width="1.8" stroke-linejoin="round" stroke-linecap="round"/>
<path d="M54.8 250.1 L56.9 242.9 L58.7 246.8 L60.4 252.3 L62.4 238.2 L64.1 230.6 L65.6 230.6 L67.3 246.8 L69.1 261.6 L70.6 250.1 L72.3 230.6 L73.8 223.0 L75.6 216.1 L77.5 238.2 L79.3 231.7 L81.4 225.2 L82.9 216.5 L84.7 210.0 L85.3 201.3 L86.8 197.6 L88.6 194.8 L90.1 191.5 L91.6 189.8 L93.4 189.8 L94.9 183.9 L96.2 176.8 L97.7 168.8 L98.8 166.0 L100.3 165.1 L101.4 154.7 L102.7 152.9 L104.0 152.9 L104.8 163.4 L105.9 170.9 L107.2 177.4 L108.5 181.1 L109.8 176.4 L111.1 172.0 L112.4 170.9 L113.5 178.1 L114.6 172.0 L115.9 162.3 L117.2 154.7 L118.5 159.0 L119.8 164.4 L121.5 164.4 L122.8 168.8 L124.1 173.1 L125.9 172.5 L127.4 172.0 L128.9 168.8 L130.2 173.1 L131.3 178.5 L132.4 193.7 L133.9 195.9 L135.0 201.3 L136.1 203.5 L137.1 201.3 L138.0 204.5 L138.9 210.0 L140.0 200.2 L141.0 189.4 L142.6 181.8 L143.6 187.2 L144.7 192.6 L145.9 196.5 L146.6 206.9 L147.1 213.9 L148.0 226.0 L148.8 229.5 L150.2 227.7 L150.9 217.3 L151.4 205.2 L152.3 203.5 L154.0 202.6 L155.1 198.3 L157.3 188.3 L158.4 182.9 L159.5 174.2 L160.5 164.4 L161.6 155.8 L162.7 154.7 L163.8 163.4 L164.9 173.1 L166.0 166.6 L167.1 160.1 L169.2 159.0 L170.7 157.9 L171.8 162.3 L173.1 156.8 L174.6 156.8 L175.7 159.0 L177.2 163.4 L179.0 165.5 L180.5 168.8 L181.8 164.4 L183.3 160.1 L184.8 157.9 L186.1 155.8 L187.2 163.4 L188.7 170.9 L190.2 178.5 L191.3 186.1 L192.2 191.5 L193.3 176.4 L194.8 166.6 L196.5 165.5 L198.7 159.0 L200.2 153.6 L201.3 163.4 L203.0 155.8 L205.2 159.0 L207.3 166.6 L209.1 172.0 L210.6 185.0 L211.7 172.0 L213.4 166.6 L214.9 157.9 L216.0 152.1 L217.1 166.6 L219.3 163.4 L221.4 160.1 L223.6 160.1 L225.8 165.5 L227.3 177.4 L228.4 180.7 L229.7 172.0 L230.8 166.6 L233.4 166.6 L234.9 159.0 L236.2 151.4 L238.8 153.6 L240.9 155.8 L242.5 141.7 L243.5 129.8 L245.3 129.1 L246.4 126.5 L247.9 138.4 L249.6 136.3 L251.8 133.4 L255.0 133.4 L258.9 133.4" fill="none" stroke="#c00000" stroke-width="1.8" stroke-linejoin="round" stroke-linecap="round"/>
<path d="M54.8 336.8 L56.5 341.2 L58.7 345.1 L61.9 347.3 L65.2 348.1 L67.3 344.4 L70.6 344.4 L73.4 344.4 L74.9 339.0 L76.0 333.6 L78.2 327.1 L80.3 323.8 L82.5 321.7 L85.8 320.6 L88.6 319.1 L90.1 313.0 L92.3 307.6 L94.4 302.2 L95.5 297.8 L98.8 295.6 L102.0 293.5 L104.2 288.0 L107.4 284.8 L110.7 279.4 L112.9 270.7 L115.0 262.0 L117.2 253.4 L118.9 246.8 L121.5 240.3 L124.8 236.0 L128.0 231.7 L131.3 226.3 L133.5 218.7 L135.6 219.8 L138.9 217.6 L142.1 215.4 L145.4 215.4 L146.9 223.0 L147.5 229.5 L149.7 227.3 L153.0 223.0 L156.2 217.6 L159.5 213.3 L160.5 211.0 L162.3 204.5 L163.8 198.0 L165.3 192.6 L167.1 191.1 L169.2 190.4 L171.4 190.4 L172.9 193.7 L174.6 197.0 L176.2 193.7 L177.9 190.4 L179.4 193.7 L180.9 195.9 L182.2 191.5 L184.0 187.2 L185.5 186.1 L187.0 187.2 L188.3 192.6 L189.8 197.0 L190.7 196.7 L192.6 201.2 L194.6 205.1 L196.5 207.7 L197.8 203.8 L199.8 199.9 L201.7 196.0 L203.0 193.4 L205.0 189.5 L206.9 187.6 L209.5 185.6 L211.5 186.9 L213.4 186.3 L215.4 183.7 L217.3 181.1 L219.3 178.5 L220.6 183.0 L222.5 182.4 L224.1 185.6 L225.1 190.8 L226.2 196.7 L227.1 202.5 L228.4 207.7 L230.3 212.9 L231.6 209.0 L233.6 204.5 L235.5 201.2 L237.1 199.3 L238.4 204.5 L239.4 193.4 L240.7 185.6 L242.0 188.2 L244.0 192.1 L245.9 194.1 L247.9 191.5 L249.8 189.5 L251.8 190.2 L253.7 188.9 L255.7 187.6 L257.4 183.0 L258.9 177.2 L260.9 174.6 L262.8 173.3 L264.8 173.9 L266.7 170.7 L267.8 169.3 L268.5 169.9 L270.2 176.4 L272.4 181.8 L274.5 186.1 L276.7 185.0 L278.9 181.8 L281.0 179.6 L283.6 176.4 L286.5 175.3 L289.3 174.2 L291.9 175.3 L294.0 179.6 L296.2 177.4 L298.4 175.3 L301.0 177.4 L303.2 172.0 L305.3 169.9 L307.1 174.2 L309.2 179.6 L311.4 185.0 L313.1 191.5 L314.6 195.9 L316.2 202.4 L317.9 195.9 L319.6 187.2 L321.4 181.8 L323.3 177.4 L325.5 177.4 L327.6 180.7 L329.8 185.0 L332.2 189.4 L334.3 190.4 L336.5 191.5 L338.7 185.0 L340.8 182.9 L343.4 181.8 L345.6 182.2 L347.8 186.1 L349.9 189.4 L352.1 193.7 L354.3 190.4 L356.4 191.5 L358.2 198.0 L360.3 201.3 L362.5 202.4 L364.7 204.5 L366.4 208.9 L367.9 215.4 L369.5 211.0 L371.2 207.8 L373.4 206.7 L375.5 200.2 L377.3 193.7 L379.4 195.9 L380.9 206.7 L382.7 211.0 L384.2 204.5 L386.4 202.4 L388.5 201.9 L390.7 198.0 L392.9 193.7 L394.6 190.4 L396.8 192.6 L398.9 193.7 L401.1 189.4 L403.3 192.6 L405.4 194.8 L407.6 189.4 L409.1 194.8 L410.6 201.3 L412.4 204.5 L414.1 210.0 L415.6 213.2 L417.8 215.4 L420.0 213.2 L422.1 211.0 L424.3 206.7 L426.5 201.3 L428.6 197.0 L430.8 195.9 L433.0 192.6 L435.1 190.4 L437.3 187.2 L439.5 186.1 L441.0 189.4 L442.7 195.9 L444.2 203.5 L446.0 202.4 L448.1 201.3 L450.3 203.5 L452.5 208.9 L454.0 215.4 L455.7 213.2 L457.9 215.4 L460.1 214.3 L462.7 212.1 L465.5 210.0 L467.6 209.3 L469.9 213.2 L472.2 213.2 L474.3 208.9 L476.5 204.5 L478.2 200.2 L479.8 203.5 L481.9 207.8 L484.1 211.0 L485.6 215.4 L487.8 218.6 L488.4 219.1 L490.6 215.4 L492.1 211.1 L493.4 216.5 L494.9 224.1 L496.4 221.9 L498.2 218.7 L499.9 219.8 L501.4 215.4 L502.9 211.1 L505.8 211.1 L507.6 209.5 L508.9 210.8 L510.2 223.8 L511.5 232.9 L512.8 235.5 L514.1 229.0 L516.1 223.8 L518.0 223.6 L520.0 221.9 L521.3 216.0 L522.2 208.2 L523.9 206.9 L526.5 206.6 L529.1 206.3 L530.4 209.5 L531.7 213.4 L533.0 216.7 L534.7 213.4 L536.0 208.2 L536.9 206.3 L538.2 210.8 L540.1 213.4 L542.1 218.0 L543.4 225.1 L545.3 229.0 L547.3 232.3 L549.2 234.9 L551.2 236.8 L552.5 239.4 L554.4 243.3 L556.4 247.2 L558.3 249.2 L561.0 250.0 L563.2 251.2 L564.3 256.6 L565.4 262.0 L566.9 267.4 L568.2 272.9 L569.7 275.0 L571.9 273.3 L574.0 274.4 L575.6 274.9 L576.2 277.2 L577.7 280.4 L579.0 283.7 L579.9 283.6 L580.5 282.6 L581.7 275.5 L582.7 269.6 L583.2 269.5 L584.5 268.1 L585.4 266.3 L586.0 265.3 L587.5 264.1 L588.1 263.1 L590.2 262.3 L592.5 261.6 L592.9 261.3 L594.6 260.3 L595.1 258.7 L596.8 256.6 L597.3 254.3 L598.9 250.6 L601.1 247.3 L602.7 242.5 L603.1 242.4 L604.4 239.3 L605.3 238.0 L606.6 237.1 L607.0 235.4 L607.6 235.6 L608.5 239.1 L609.2 242.5 L610.3 242.8 L610.9 243.6 L612.4 241.9 L614.6 240.2 L616.8 238.5 L618.3 240.6 L619.6 246.7 L621.1 253.2 L622.6 256.5 L624.4 260.8 L626.5 264.1 L628.7 267.3 L630.4 272.8 L632.0 279.3 L633.5 287.9 L634.8 280.3 L636.3 276.0 L637.8 277.1 L639.5 282.5 L641.7 289.0 L643.9 294.4 L646.0 298.8 L648.2 304.2 L650.4 307.4 L652.5 308.5 L654.7 312.9 L656.9 319.4 L659.1 325.9 L661.2 329.8 L663.4 324.8 L665.6 320.4 L667.7 320.4 L669.9 322.6 L672.1 323.7 L674.2 320.4 L676.8 319.8" fill="none" stroke="#7f7f7f" stroke-width="1.9" stroke-linejoin="round" stroke-dasharray="4.6 2.6"/>
<path d="M54.5 79.5V429" stroke="#404040" stroke-width="1" fill="none"/>
<path d="M54 429H678" stroke="#000" stroke-width="1.5" fill="none"/>
<path d="M54.5 79.50H58.7M54.5 123.50H58.7M54.5 166.50H58.7M54.5 210.50H58.7M54.5 254.50H58.7M54.5 297.50H58.7M54.5 341.50H58.7M54.5 385.50H58.7" stroke="#404040" stroke-width="1" fill="none"/>
<path d="M54.50 429V425M107.41 429V425M155.20 429V425M208.12 429V425M259.32 429V425M312.23 429V425M363.44 429V425M416.35 429V425M469.26 429V425M520.47 429V425M573.38 429V425M624.59 429V425M677.50 429V425" stroke="#000" stroke-width="1.2" fill="none"/>
<text x="44.5" y="83.35" font-size="10.5" fill="#222" text-anchor="end" textLength="35.5" lengthAdjust="spacingAndGlyphs">180000</text>
<text x="44.5" y="127.35" font-size="10.5" fill="#222" text-anchor="end" textLength="35.5" lengthAdjust="spacingAndGlyphs">170000</text>
<text x="44.5" y="170.35" font-size="10.5" fill="#222" text-anchor="end" textLength="35.5" lengthAdjust="spacingAndGlyphs">160000</text>
<text x="44.5" y="214.35" font-size="10.5" fill="#222" text-anchor="end" textLength="35.5" lengthAdjust="spacingAndGlyphs">150000</text>
<text x="44.5" y="258.35" font-size="10.5" fill="#222" text-anchor="end" textLength="35.5" lengthAdjust="spacingAndGlyphs">140000</text>
<text x="44.5" y="301.35" font-size="10.5" fill="#222" text-anchor="end" textLength="35.5" lengthAdjust="spacingAndGlyphs">130000</text>
<text x="44.5" y="345.35" font-size="10.5" fill="#222" text-anchor="end" textLength="35.5" lengthAdjust="spacingAndGlyphs">120000</text>
<text x="44.5" y="389.35" font-size="10.5" fill="#222" text-anchor="end" textLength="35.5" lengthAdjust="spacingAndGlyphs">110000</text>
<text x="44.5" y="432.85" font-size="10.5" fill="#222" text-anchor="end" textLength="35.5" lengthAdjust="spacingAndGlyphs">100000</text>
<text x="37.10" y="448.90" font-size="11.2" fill="#222">1</text>
<text x="43.30" y="449.10" font-size="11.5" fill="#222">月</text>
<text x="54.80" y="448.90" font-size="11.2" fill="#222">1</text>
<text x="61.00" y="449.10" font-size="11.5" fill="#222">日</text>
<text x="90.01" y="448.90" font-size="11.2" fill="#222">2</text>
<text x="96.21" y="449.10" font-size="11.5" fill="#222">月</text>
<text x="107.71" y="448.90" font-size="11.2" fill="#222">1</text>
<text x="113.91" y="449.10" font-size="11.5" fill="#222">日</text>
<text x="137.80" y="448.90" font-size="11.2" fill="#222">3</text>
<text x="144.00" y="449.10" font-size="11.5" fill="#222">月</text>
<text x="155.50" y="448.90" font-size="11.2" fill="#222">1</text>
<text x="161.70" y="449.10" font-size="11.5" fill="#222">日</text>
<text x="190.72" y="448.90" font-size="11.2" fill="#222">4</text>
<text x="196.92" y="449.10" font-size="11.5" fill="#222">月</text>
<text x="208.42" y="448.90" font-size="11.2" fill="#222">1</text>
<text x="214.62" y="449.10" font-size="11.5" fill="#222">日</text>
<text x="241.92" y="448.90" font-size="11.2" fill="#222">5</text>
<text x="248.12" y="449.10" font-size="11.5" fill="#222">月</text>
<text x="259.62" y="448.90" font-size="11.2" fill="#222">1</text>
<text x="265.82" y="449.10" font-size="11.5" fill="#222">日</text>
<text x="294.83" y="448.90" font-size="11.2" fill="#222">6</text>
<text x="301.03" y="449.10" font-size="11.5" fill="#222">月</text>
<text x="312.53" y="448.90" font-size="11.2" fill="#222">1</text>
<text x="318.73" y="449.10" font-size="11.5" fill="#222">日</text>
<text x="346.04" y="448.90" font-size="11.2" fill="#222">7</text>
<text x="352.24" y="449.10" font-size="11.5" fill="#222">月</text>
<text x="363.74" y="448.90" font-size="11.2" fill="#222">1</text>
<text x="369.94" y="449.10" font-size="11.5" fill="#222">日</text>
<text x="398.95" y="448.90" font-size="11.2" fill="#222">8</text>
<text x="405.15" y="449.10" font-size="11.5" fill="#222">月</text>
<text x="416.65" y="448.90" font-size="11.2" fill="#222">1</text>
<text x="422.85" y="449.10" font-size="11.5" fill="#222">日</text>
<text x="451.86" y="448.90" font-size="11.2" fill="#222">9</text>
<text x="458.06" y="449.10" font-size="11.5" fill="#222">月</text>
<text x="469.56" y="448.90" font-size="11.2" fill="#222">1</text>
<text x="475.76" y="449.10" font-size="11.5" fill="#222">日</text>
<text x="499.97" y="448.90" font-size="11.2" fill="#222">10</text>
<text x="512.37" y="449.10" font-size="11.5" fill="#222">月</text>
<text x="523.87" y="448.90" font-size="11.2" fill="#222">1</text>
<text x="530.07" y="449.10" font-size="11.5" fill="#222">日</text>
<text x="552.88" y="448.90" font-size="11.2" fill="#222">11</text>
<text x="565.28" y="449.10" font-size="11.5" fill="#222">月</text>
<text x="576.78" y="448.90" font-size="11.2" fill="#222">1</text>
<text x="582.98" y="449.10" font-size="11.5" fill="#222">日</text>
<text x="604.09" y="448.90" font-size="11.2" fill="#222">12</text>
<text x="616.49" y="449.10" font-size="11.5" fill="#222">月</text>
<text x="627.99" y="448.90" font-size="11.2" fill="#222">1</text>
<text x="634.19" y="449.10" font-size="11.5" fill="#222">日</text>
</g>
</svg></body></html>
